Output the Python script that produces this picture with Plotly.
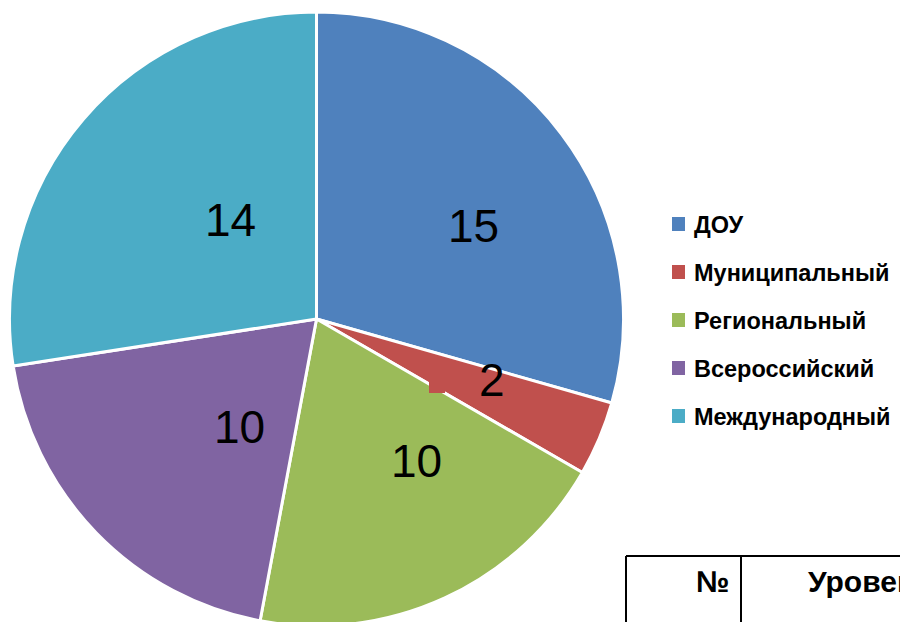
import math
import plotly.graph_objects as go

categories = ["ДОУ", "Муниципальный", "Региональный", "Всероссийский", "Международный"]
values = [15, 2, 10, 10, 14]
colors = ["#4F81BD", "#C0504D", "#9BBB59", "#8064A2", "#4BACC6"]
table_headers = ["№", "Уровень"]

W, H = 900, 626          # page is 622 tall; the pie runs slightly past the bottom, as in the reference
CX, CY, R = 316.5, 319, 307  # pie centre / radius in pixels (layout)

# label placement (layout): radius fraction and angular offset from the slice mid-angle
label_rfrac = [0.595, 0.605, 0.565, 0.434, 0.427]
label_dang = [6.5, -3.7, -10.3, -10.4, 8.7]

FONT = "Liberation Sans, Arial, sans-serif"

fig = go.Figure()
fig.add_trace(go.Pie(
    labels=categories,
    values=values,
    sort=False,
    direction="clockwise",
    rotation=0,
    marker=dict(colors=colors, line=dict(color="white", width=3)),
    textinfo="none",
    domain=dict(x=[(CX - R) / W, (CX + R) / W], y=[1 - (CY + R) / H, 1 - (CY - R) / H]),
    showlegend=False,
    hoverinfo="label+value+percent",
))

shapes = []
annotations = []

# value labels, positioned from each slice's mid-angle
total = sum(values)
cum = 0
for v, rf, da in zip(values, label_rfrac, label_dang):
    mid = (cum + v / 2) / total * 360 + da
    cum += v
    px = CX + rf * R * math.sin(math.radians(mid))
    py = CY - rf * R * math.cos(math.radians(mid))
    annotations.append(dict(text=str(v), xref="paper", yref="paper",
                            x=px / W, y=1 - py / H, xanchor="center", yanchor="middle",
                            showarrow=False,
                            font=dict(family=FONT, size=46, color="black")))

# small leader stub of the "2" label
shapes.append(dict(type="rect", xref="paper", yref="paper",
                   x0=429 / W, x1=445 / W, y0=1 - 393 / H, y1=1 - 382 / H,
                   fillcolor=colors[1], line=dict(width=0)))

# Legend built from the categories
leg_y0 = 224
leg_step = 48
for i, (cat, col) in enumerate(zip(categories, colors)):
    yc = leg_y0 + i * leg_step
    shapes.append(dict(type="rect", xref="paper", yref="paper",
                       x0=672 / W, x1=685 / W,
                       y0=1 - (yc + 7) / H, y1=1 - (yc - 7) / H,
                       fillcolor=col, line=dict(width=0)))
    annotations.append(dict(text=cat, xref="paper", yref="paper",
                            x=692 / W, y=1 - (yc + 1) / H, xanchor="left", yanchor="middle",
                            showarrow=False,
                            font=dict(family=FONT, size=23.5, color="black", weight="bold")))

# Fragment of the table below the chart
line = dict(color="black", width=2)
shapes.append(dict(type="line", xref="paper", yref="paper",
                   x0=626 / W, x1=1.0, y0=1 - 556 / H, y1=1 - 556 / H, line=line))
shapes.append(dict(type="line", xref="paper", yref="paper",
                   x0=626 / W, x1=626 / W, y0=1 - 556 / H, y1=0, line=line))
shapes.append(dict(type="line", xref="paper", yref="paper",
                   x0=741 / W, x1=741 / W, y0=1 - 556 / H, y1=0, line=line))
annotations.append(dict(text=table_headers[0], xref="paper", yref="paper",
                        x=731 / W, y=1 - 581 / H, xanchor="right", yanchor="middle",
                        showarrow=False,
                        font=dict(family=FONT, size=30, color="black", weight="bold")))
annotations.append(dict(text=table_headers[1], xref="paper", yref="paper",
                        x=806 / W, y=1 - 581 / H, xanchor="left", yanchor="middle",
                        showarrow=False,
                        font=dict(family=FONT, size=30, color="black", weight="bold")))

fig.update_layout(
    width=W, height=H,
    margin=dict(l=0, r=0, t=0, b=0),
    paper_bgcolor="white",
    plot_bgcolor="white",
    shapes=shapes,
    annotations=annotations,
)

fig.write_html(
    "out.html",
    config={"displayModeBar": False},
    post_script="document.body.style.margin='0';document.body.style.overflow='hidden';",
)
